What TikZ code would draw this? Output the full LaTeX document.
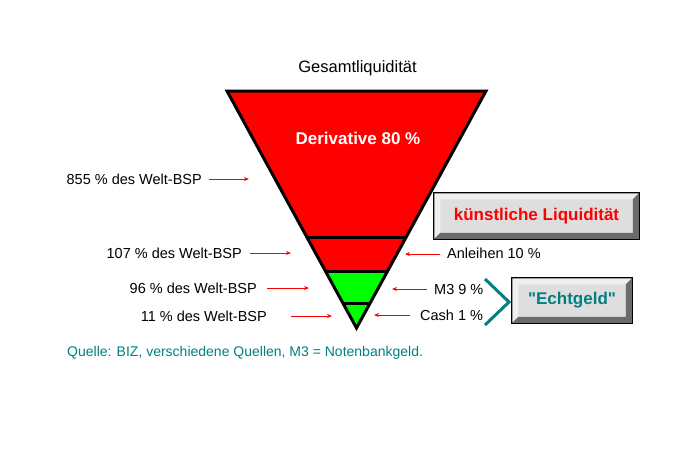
\documentclass[tikz,border=0pt]{standalone}
\usepackage{fontspec}
\setmainfont{Liberation Sans}
\usetikzlibrary{arrows.meta,calc}
\definecolor{pured}{RGB}{255,0,0}
\definecolor{pugreen}{RGB}{0,255,0}
\definecolor{qteal}{RGB}{0,128,128}
\definecolor{btnface}{RGB}{222,222,222}
\tikzset{
lbl/.style={inner sep=0pt, font=\fontsize{14.5}{16}\selectfont},
redarrow/.style={draw=pured, line width=0.9pt, -{Stealth[length=5pt,width=4pt]}},
btn/.style={draw=black, line width=1.5pt, fill=btnface, inner sep=0pt, font=\bfseries\fontsize{17}{20}\selectfont},
bevellight/.style={fill=white!94!black},
beveldark/.style={fill=black!58},
}
\begin{document}
\begin{tikzpicture}[x=1pt,y=-1pt]
\fill[white] (0,0) rectangle (700,450);
\path coordinate (TL) at (227,91)
coordinate (TR) at (486,91)
coordinate (A) at (356.5,328)
coordinate (L1) at ($(TL)!0.62!(A)$)
coordinate (R1) at ($(TR)!0.62!(A)$)
coordinate (L2) at ($(TL)!0.7595!(A)$)
coordinate (R2) at ($(TR)!0.7595!(A)$)
coordinate (L3) at ($(TL)!0.8987!(A)$)
coordinate (R3) at ($(TR)!0.8987!(A)$)
;
\fill[pured] (TL) -- (TR) -- (R2) -- (L2) -- cycle;
\fill[pugreen] (L2) -- (R2) -- (A) -- cycle;
\draw[line width=3pt] (TL) -- (TR) -- (A) -- cycle;
\draw[line width=3pt] (L1) -- (R1);
\draw[line width=3pt] (L2) -- (R2);
\draw[line width=3pt] (L3) -- (R3);
\path node (title) at (357.5,68) [font=\fontsize{16.5}{18}\selectfont] {Gesamtliquidität}
node (deriv) at (358,138) [text=white, font=\bfseries\fontsize{17}{20}\selectfont] {Derivative 80 \%}
node (l855) at (202,179) [lbl, anchor=east] {855 \% des Welt-BSP}
node (l107) at (242,253) [lbl, anchor=east] {107 \% des Welt-BSP}
node (l96) at (257,288) [lbl, anchor=east] {96 \% des Welt-BSP}
node (l11) at (267,316) [lbl, anchor=east] {11 \% des Welt-BSP}
node (anl) at (447,253) [lbl, anchor=west] {Anleihen 10 \%}
node (m3) at (434,290) [lbl, anchor=west] {M3 9 \%}
node (cash) at (420,315) [lbl, anchor=west] {Cash 1 \%}
node (src) at (67,353) [inner sep=0pt, font=\fontsize{14}{16}\selectfont, anchor=west, text=qteal] {Quelle: BIZ, verschiedene Quellen, M3 = Notenbankgeld.}
;
\path coordinate (s855) at (209,179) coordinate (t855) at (249,179)
coordinate (s107) at (250,253) coordinate (t107) at (291,253)
coordinate (s96) at (267,288) coordinate (t96) at (309,288)
coordinate (s11) at (291,316) coordinate (t11) at (332,316)
coordinate (sanl) at (440,254) coordinate (tanl) at (405,254)
coordinate (sm3) at (427,289) coordinate (tm3) at (392,289)
coordinate (scash) at (410,315) coordinate (tcash) at (374,315)
;
\draw[redarrow] (s855) -- (t855);
\draw[redarrow] (s107) -- (t107);
\draw[redarrow] (s96) -- (t96);
\draw[redarrow] (s11) -- (t11);
\draw[redarrow] (sanl) -- (tanl);
\draw[redarrow] (sm3) -- (tm3);
\draw[redarrow] (scash) -- (tcash);
\node (kl) at (536.5,216) [btn, text=pured, minimum width=205, minimum height=46] {künstliche Liquidität};
\fill[bevellight] ([shift={(1,1)}]kl.north west) -- ([shift={(-1,1)}]kl.north east) -- ([shift={(-7,7)}]kl.north east) -- ([shift={(7,7)}]kl.north west) -- ([shift={(7,-7)}]kl.south west) -- ([shift={(1,-1)}]kl.south west) -- cycle;
\fill[beveldark] ([shift={(-1,1)}]kl.north east) -- ([shift={(-1,-1)}]kl.south east) -- ([shift={(1,-1)}]kl.south west) -- ([shift={(7,-7)}]kl.south west) -- ([shift={(-7,-7)}]kl.south east) -- ([shift={(-7,7)}]kl.north east) -- cycle;
\node (eg) at (572,300.5) [btn, text=qteal, minimum width=120, minimum height=45] {\textquotedbl Echtgeld\textquotedbl};
\fill[bevellight] ([shift={(1,1)}]eg.north west) -- ([shift={(-1,1)}]eg.north east) -- ([shift={(-7,7)}]eg.north east) -- ([shift={(7,7)}]eg.north west) -- ([shift={(7,-7)}]eg.south west) -- ([shift={(1,-1)}]eg.south west) -- cycle;
\fill[beveldark] ([shift={(-1,1)}]eg.north east) -- ([shift={(-1,-1)}]eg.south east) -- ([shift={(1,-1)}]eg.south west) -- ([shift={(7,-7)}]eg.south west) -- ([shift={(-7,-7)}]eg.south east) -- ([shift={(-7,7)}]eg.north east) -- cycle;
\path coordinate (ch1) at (485,279) coordinate (ch2) at (509,302) coordinate (ch3) at (485,325);
\draw[qteal, line width=3pt] (ch1) -- (ch2) -- (ch3);
\end{tikzpicture}
\end{document}
